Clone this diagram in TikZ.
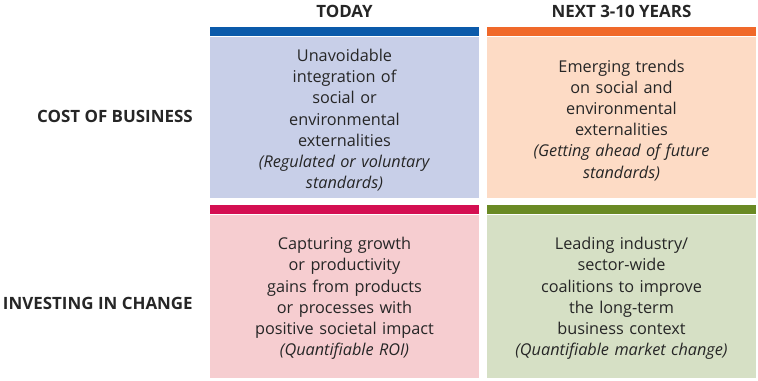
\documentclass[tikz,border=0pt]{standalone}
\usepackage{fontspec}
\setmainfont{Open Sans}
\usetikzlibrary{positioning}
\definecolor{textgray}{HTML}{262626}
\definecolor{todaybar}{HTML}{0B5AAA}
\definecolor{todaybox}{HTML}{C8CFE8}
\definecolor{nextbar}{HTML}{F0692A}
\definecolor{nextbox}{HTML}{FDDBC5}
\definecolor{investbar}{HTML}{D40F52}
\definecolor{investbox}{HTML}{F6CDD0}
\definecolor{leadbar}{HTML}{6A8A24}
\definecolor{leadbox}{HTML}{D6E0C5}
\tikzset{
  box/.style = {minimum width=201.75pt, inner sep=0pt},
  celltext/.style = {
    inner sep=0pt, align=center, text width=195pt, text=textgray,
    font=\fontsize{12.2}{15.9}\selectfont
  },
  bar/.style = {minimum width=201.75pt, minimum height=6.75pt, inner sep=0pt},
  heading/.style = {inner sep=0pt, text=textgray, font=\bfseries\fontsize{12.7}{15}\selectfont}
}

\begin{document}
\begin{tikzpicture}[x=0.75pt,y=-0.75pt]
  \useasboundingbox (0,0) rectangle (758,380);
  \node[box,fill=todaybox,minimum height=120.75pt] (costtoday) at (344.5,117.5) {};
  \node[box,fill=nextbox,minimum height=120.75pt] (costnext) at (621.5,117.5) {};
  \node[box,fill=investbox,minimum height=122.25pt] (investtoday) at (344.5,296.5) {};
  \node[box,fill=leadbox,minimum height=122.25pt] (investnext) at (621.5,296.5) {};
  \node[bar,fill=todaybar,above=0pt of costtoday] (todaystripe) {};
  \node[bar,fill=nextbar,above=0pt of costnext] (nextstripe) {};
  \node[bar,fill=investbar,above=0pt of investtoday] (investstripe) {};
  \node[bar,fill=leadbar,above=0pt of investnext] (leadstripe) {};
  \node[celltext] (costtodaytext) at ([yshift=-2pt]costtoday.center)
    {Unavoidable\\integration of\\social or\\environmental\\externalities\\
     \textit{(Regulated or voluntary}\\\textit{standards)}};
  \node[celltext] (costnexttext) at ([yshift=-2pt]costnext.center)
    {Emerging trends\\on social and\\environmental\\externalities\\
     \textit{(Getting ahead of future}\\\textit{standards)}};
  \node[celltext] (investtodaytext) at ([yshift=-1.5pt]investtoday.center)
    {Capturing growth\\or productivity\\gains from products\\or processes with\\
     positive societal impact\\\textit{(Quantifiable ROI)}};
  \node[celltext] (investnexttext) at ([yshift=-1.5pt]investnext.center)
    {Leading industry/\\sector-wide\\coalitions to improve\\the long-term\\
     business context\\\textit{(Quantifiable market change)}};
  \node[heading] (today) at (344.5,11.5) {TODAY};
  \node[heading] (next) at (621.5,11.5) {NEXT 3-10 YEARS};
  \node[heading,anchor=east] (cost) at (193,116.5) {COST OF BUSINESS};
  \node[heading,anchor=east] (invest) at (193,303) {INVESTING IN CHANGE};
\end{tikzpicture}
\end{document}
